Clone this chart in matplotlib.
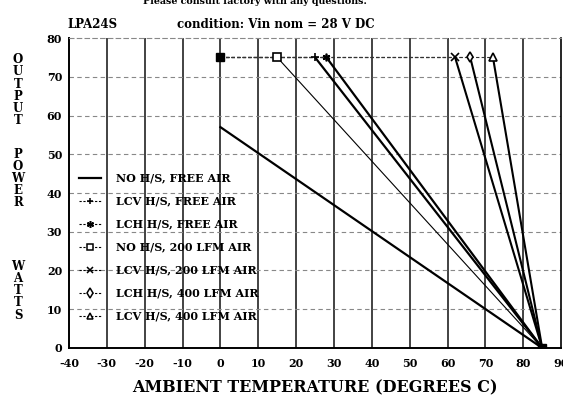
import numpy as np
import matplotlib.pyplot as plt
from matplotlib.lines import Line2D

# derating curves: power flat at max until knee temp, then linear to 0 W at 85 C
labels = ['NO H/S, FREE AIR', 'LCV H/S, FREE AIR', 'LCH H/S, FREE AIR',
          'NO H/S, 200 LFM AIR', 'LCV H/S, 200 LFM AIR',
          'LCH H/S, 400 LFM AIR', 'LCV H/S, 400 LFM AIR']
knee_temp = [0, 25, 28, 15, 62, 66, 72]
knee_power = [57, 75, 75, 75, 75, 75, 75]
end_temp = 85
max_power = 75
markers = [None, '+', (6, 2, 0), 's', 'x', 'd', '^']
widths = [1.6, 1.6, 1.6, 0.8, 1.5, 1.5, 1.5]

xticks = np.arange(-40, 91, 10)
yticks = np.arange(0, 81, 10)
xticklabels = [str(v).replace('\u2212', '-') for v in xticks]

font = 'DejaVu Serif'

fig = plt.figure(figsize=(5.63, 4.01), dpi=100)
ax = fig.add_axes([0.1226, 0.1322, 0.874, 0.773])

for i in range(len(labels)):
    # flat part at max power
    ax.plot([0, knee_temp[i]], [max_power, max_power], ls=(0, (3, 2)),
            color='#333333', lw=0.8, zorder=2)
    ax.plot([knee_temp[i], end_temp], [knee_power[i], 0], color='black',
            lw=widths[i], zorder=3)
    if markers[i] is not None:
        ax.plot(knee_temp[i], knee_power[i], marker=markers[i], ms=5.5,
                mfc='white', mec='black', mew=1.2, color='black', zorder=4)

ax.plot([0], [max_power], marker='s', ms=6, color='black', zorder=5)
ax.plot([end_temp], [0], marker='s', ms=6, color='black', zorder=5)

ax.set_xlim(-40, 90)
ax.set_ylim(0, 80)
ax.set_xticks(xticks)
ax.set_xticklabels(xticklabels)
ax.set_yticks(yticks)
ax.tick_params(length=0, labelsize=8)
ax.tick_params(axis='x', pad=7)
ax.tick_params(axis='y', pad=5)
for lab in ax.get_xticklabels() + ax.get_yticklabels():
    lab.set_fontfamily(font)
    lab.set_fontweight('bold')

for x in xticks[1:-1]:
    ax.axvline(x, color='#222222', lw=1.2, zorder=1)
for y in yticks[1:-1]:
    ax.axhline(y, color='#888888', lw=0.8, ls=(0, (4, 3)), zorder=1)

ax.spines['top'].set_linestyle((0, (4, 3)))
ax.spines['top'].set_color('#888888')
ax.spines['left'].set_linewidth(1.4)
ax.spines['bottom'].set_linewidth(1.4)
ax.spines['right'].set_linewidth(1.2)

handles = []
for i in range(len(labels)):
    if i == 0:
        h = Line2D([], [], color='black', lw=1.6)
    else:
        h = Line2D([], [], color='black', lw=0.8, ls=(0, (2, 1.5)),
                   marker=markers[i], ms=5, mfc='white', mec='black', mew=1.1)
    handles.append(h)
leg = ax.legend(handles, labels, loc='upper left', bbox_to_anchor=(0.005, 0.59),
                frameon=False, handlelength=2.0, handletextpad=1.3,
                labelspacing=1.08, borderpad=0.2,
                prop={'family': font, 'weight': 'bold', 'size': 8})

ax.set_xlabel('AMBIENT TEMPERATURE (DEGREES C)', fontfamily=font,
              fontweight='bold', fontsize=11.5, labelpad=8)

ylab = ['OUTPUT', 'POWER', 'WATTS']
ypos = [0.775, 0.555, 0.275]
for word, yp in zip(ylab, ypos):
    fig.text(0.032, yp, '\n'.join(word), ha='center', va='center',
             fontfamily=font, fontweight='bold', fontsize=8.5, linespacing=0.92)

fig.text(0.119, 0.94, 'LPA24S', fontfamily=font, fontweight='bold', fontsize=8.5,
         ha='left', va='center')
fig.text(0.49, 0.94, 'condition: Vin nom = 28 V DC', fontfamily=font,
         fontweight='bold', fontsize=8.5, ha='center', va='center')
fig.text(0.453, 0.997, 'Please consult factory with any questions.', fontfamily=font,
         fontweight='bold', fontsize=6.8, ha='center', va='center')

plt.savefig('out.png', dpi=100)
